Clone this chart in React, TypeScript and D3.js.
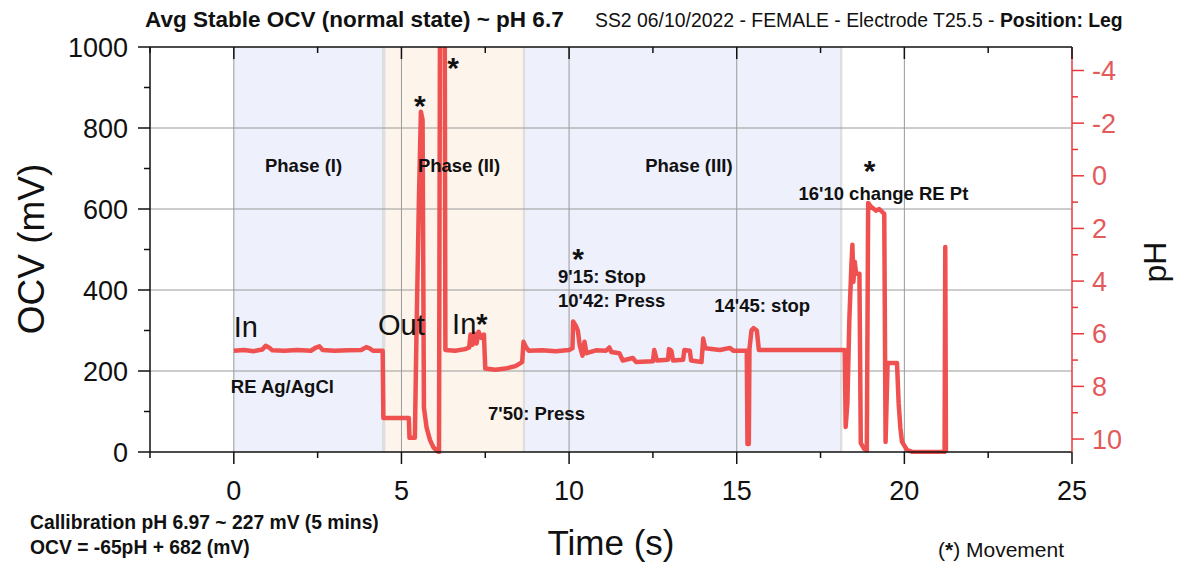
import React from 'react';
import * as d3 from 'd3';

const timeS = [
  0.0, 0.3, 0.6, 0.85, 0.95, 1.05, 1.15, 1.5, 1.9, 2.3, 2.45, 2.55, 2.65, 3.0, 3.4, 3.8, 3.95, 4.05, 4.15, 4.44,
  4.46, 5.22, 5.24, 5.4, 5.45, 5.52, 5.58, 5.63, 5.67, 5.75, 5.85, 5.95, 6.05, 6.12, 6.15, 6.29, 6.31,
  6.6, 6.9, 7.02, 7.06, 7.12, 7.18, 7.24, 7.3, 7.38, 7.46, 7.5, 7.8, 8.1, 8.4, 8.6, 8.64, 8.72, 8.8,
  9.2, 9.6, 10.0, 10.1, 10.12, 10.2, 10.26, 10.32, 10.4, 10.46, 10.52, 10.8, 11.1, 11.2, 11.26, 11.5, 11.6,
  11.9, 12.0, 12.5, 12.54, 12.62, 12.95, 12.98, 13.05, 13.1, 13.4, 13.44, 13.6, 13.64, 13.95, 14.0, 14.06,
  14.5, 14.8, 14.9, 15.3, 15.32, 15.36, 15.38, 15.44, 15.5, 15.6, 15.66, 16.5, 17.5, 18.22,
  18.25, 18.3, 18.36, 18.42, 18.45, 18.48, 18.52, 18.56, 18.66, 18.7, 18.8, 18.88, 18.92, 19.0, 19.15,
  19.25, 19.4, 19.44, 19.5, 19.78, 19.83, 19.88, 19.93, 20.08, 20.25, 21.2, 21.22, 21.24,
];
const ocvMv = [
  250, 252, 249, 253, 262, 258, 251, 250, 252, 250, 258, 261, 252, 250, 251, 252, 259, 256, 250, 250,
  84, 84, 35, 35, 300, 620, 840, 820, 110, 60, 30, 12, 3, 0, 1100, 1100, 252,
  250, 254, 258, 290, 265, 292, 268, 297, 282, 290, 206, 203, 206, 212, 222, 272, 258, 250,
  251, 249, 252, 256, 322, 312, 300, 262, 238, 272, 244, 251, 250, 258, 247, 244, 226,
  232, 222, 224, 252, 226, 228, 254, 250, 226, 228, 252, 250, 226, 222, 280, 256,
  252, 257, 250, 250, 20, 20, 255, 300, 306, 300, 252, 252, 252, 252,
  62, 120, 330, 460, 512, 420, 470, 440, 440, 22, 8, 4, 615, 606, 596,
  600, 588, 25, 220, 220, 120, 60, 25, 5, 0, 0, 506, 0,
];

const xMajorTicks = [0, 5, 10, 15, 20, 25];
const xMinorTicks = [-2.5, 2.5, 7.5, 12.5, 17.5, 22.5];
const yMajorTicks = [0, 200, 400, 600, 800, 1000];
const yMinorTicks = [100, 300, 500, 700, 900];
const yGridValues = [200, 400, 600, 800];
const xGridValues = [0, 5, 10, 15, 20];
const phMajorTicks = [-4, -2, 0, 2, 4, 6, 8, 10];
const phMinorTicks = [-3, -1, 1, 3, 5, 7, 9];

const bandStarts = [0, 4.42, 4.53, 8.62, 8.7, 18.08];
const bandEnds = [4.42, 4.53, 8.62, 8.7, 18.08, 18.15];
const bandKinds = ['phase', 'edge', 'move', 'edge', 'phase', 'edge'];

const calSlope = -65;
const calIntercept = 682;

const FONT = '"Liberation Sans", Arial, Helvetica, sans-serif';
const RED = '#ee4848';
const AXIS_RED = '#e8383d';
const LABEL_RED = '#e25a5a';

export default function App() {
  const left = 150, right = 1072, top = 47, bottom = 452;
  const x = d3.scaleLinear().domain([-2.5, 25]).range([left, right]);
  const y = d3.scaleLinear().domain([0, 1000]).range([bottom, top]);
  const ph = d3.scaleLinear()
    .domain([(calIntercept - 0) / -calSlope, (calIntercept - 1000) / -calSlope])
    .range([bottom, top]);

  const pts: [number, number][] = timeS.map((t, i) => [t, ocvMv[i]]);
  const line = d3.line<[number, number]>().x(d => x(d[0])).y(d => y(d[1]));

  const bandFill: Record<string, string> = { phase: '#eef0fc', move: '#fdf4ec', edge: '#dedede' };

  const bold = 700;
  const annotSize = 18.5;
  const star = (t: number, v: number, key: string) => (
    <text key={key} x={x(t)} y={y(v) + 16} fontSize={30} fontWeight={bold} textAnchor="middle" fill="#111">*</text>
  );

  return (
    <div>
      <style>{`body{margin:0}`}</style>
      <svg width={1183} height={563} style={{ display: 'block', fontFamily: FONT, background: '#fff' }}>
        <defs>
          <clipPath id="plotClip">
            <rect x={left} y={top} width={right - left} height={bottom - top + 2} />
          </clipPath>
        </defs>
        {/* bands */}
        {bandStarts.map((s, i) => (
          <rect key={'b' + i} x={x(s)} y={top} width={x(bandEnds[i]) - x(s)} height={bottom - top} fill={bandFill[bandKinds[i]]} />
        ))}
        {/* grid */}
        {yGridValues.map(v => (
          <line key={'gy' + v} x1={left} x2={right} y1={y(v)} y2={y(v)} stroke="#9a9a9a" strokeWidth={1} />
        ))}
        {xGridValues.map(v => (
          <line key={'gx' + v} x1={x(v)} x2={x(v)} y1={top} y2={bottom} stroke="#9a9a9a" strokeWidth={1} />
        ))}

        {/* data */}
        <g clipPath="url(#plotClip)">
          <path d={line(pts) || ''} fill="none" stroke={RED} strokeWidth={4.5} strokeLinejoin="round" strokeLinecap="butt" opacity={0.95} />
        </g>

        {/* annotations */}
        <g fontWeight={bold} fontSize={annotSize} fill="#111">
          <text x={x(0.93)} y={y(691)}>Phase (I)</text>
          <text x={x(5.49)} y={y(691)}>Phase (II)</text>
          <text x={x(12.27)} y={y(691)}>Phase (III)</text>
          <text x={x(9.67)} y={y(417)}>9'15: Stop</text>
          <text x={x(9.67)} y={y(358)}>10'42: Press</text>
          <text x={x(14.33)} y={y(346)}>14'45: stop</text>
          <text x={x(16.84)} y={y(622)}>16'10 change RE Pt</text>
          <text x={x(-0.09)} y={y(146)}>RE Ag/AgCl</text>
          <text x={x(7.58)} y={y(79)}>7'50: Press</text>
        </g>
        <g fontSize={29} fill="#111">
          <text x={x(0)} y={y(284)}>In</text>
          <text x={x(4.3)} y={y(289)}>Out</text>
          <text x={x(6.51)} y={y(291)}>In<tspan fontWeight={bold}>*</tspan></text>
        </g>
        {star(5.55, 869, 's1')}
        {star(6.54, 963, 's2')}
        {star(10.27, 491, 's3')}
        {star(18.96, 709, 's4')}

        {/* frame */}
        <line x1={left} x2={right} y1={top} y2={top} stroke="#111" strokeWidth={1.5} />
        <line x1={left} x2={right} y1={bottom} y2={bottom} stroke="#111" strokeWidth={1.5} />
        <line x1={left} x2={left} y1={top} y2={bottom} stroke="#111" strokeWidth={1.5} />
        <line x1={right} x2={right} y1={top} y2={bottom} stroke={AXIS_RED} strokeWidth={1.5} />

        {/* bottom axis */}
        {xMajorTicks.map(v => (
          <g key={'xt' + v}>
            <line x1={x(v)} x2={x(v)} y1={bottom} y2={bottom + 12} stroke="#111" strokeWidth={1.5} />
            <line x1={x(v)} x2={x(v)} y1={top} y2={top + 12} stroke="#111" strokeWidth={1.5} />
            <text x={x(v)} y={bottom + 48} fontSize={27} textAnchor="middle" fill="#111">{v}</text>
          </g>
        ))}
        {xMinorTicks.map(v => (
          <g key={'xm' + v}>
            <line x1={x(v)} x2={x(v)} y1={bottom} y2={bottom + 6} stroke="#111" strokeWidth={1.5} />
            <line x1={x(v)} x2={x(v)} y1={top} y2={top + 6} stroke="#111" strokeWidth={1.5} />
          </g>
        ))}

        {/* left axis */}
        {yMajorTicks.map(v => (
          <g key={'yt' + v}>
            <line x1={left - 12} x2={left} y1={y(v)} y2={y(v)} stroke="#111" strokeWidth={1.5} />
            <text x={left - 22} y={y(v) + 9.5} fontSize={27} textAnchor="end" fill="#111">{v}</text>
          </g>
        ))}
        {yMinorTicks.map(v => (
          <line key={'ym' + v} x1={left - 6} x2={left} y1={y(v)} y2={y(v)} stroke="#111" strokeWidth={1.5} />
        ))}

        {/* right pH axis */}
        {phMajorTicks.map(v => (
          <g key={'pt' + v}>
            <line x1={right} x2={right + 12} y1={ph(v)} y2={ph(v)} stroke={AXIS_RED} strokeWidth={1.5} />
            <text x={right + 20} y={ph(v) + 9.5} fontSize={27} fill={LABEL_RED}>{v}</text>
          </g>
        ))}
        {phMinorTicks.map(v => (
          <line key={'pm' + v} x1={right} x2={right + 6} y1={ph(v)} y2={ph(v)} stroke={AXIS_RED} strokeWidth={1.5} />
        ))}

        {/* axis titles */}
        <text transform={`translate(44,249) rotate(-90)`} fontSize={37} textAnchor="middle" fill="#111">OCV (mV)</text>
        <text x={611} y={555} fontSize={35} textAnchor="middle" fill="#111">Time (s)</text>
        <text transform={`translate(1166,262) rotate(-90)`} fontSize={32} textAnchor="middle" fill="#111">pH</text>

        {/* titles */}
        <text x={145} y={27} fontSize={22.5} fontWeight={bold} fill="#111">Avg Stable OCV (normal state) ~ pH 6.7</text>
        <text x={595} y={27} fontSize={19.4} fill="#111">SS2 06/10/2022 - FEMALE - Electrode T25.5 - <tspan fontWeight={bold}>Position: Leg</tspan></text>

        {/* notes */}
        <g fontSize={19.3} fontWeight={bold} fill="#111">
          <text x={30} y={529}>Callibration pH 6.97 ~ 227 mV (5 mins)</text>
          <text x={30} y={554}>OCV = -65pH + 682 (mV)</text>
        </g>
        <text x={938} y={557} fontSize={21} fill="#111">(<tspan fontWeight={bold}>*</tspan>) Movement</text>
      </svg>
    </div>
  );
}
